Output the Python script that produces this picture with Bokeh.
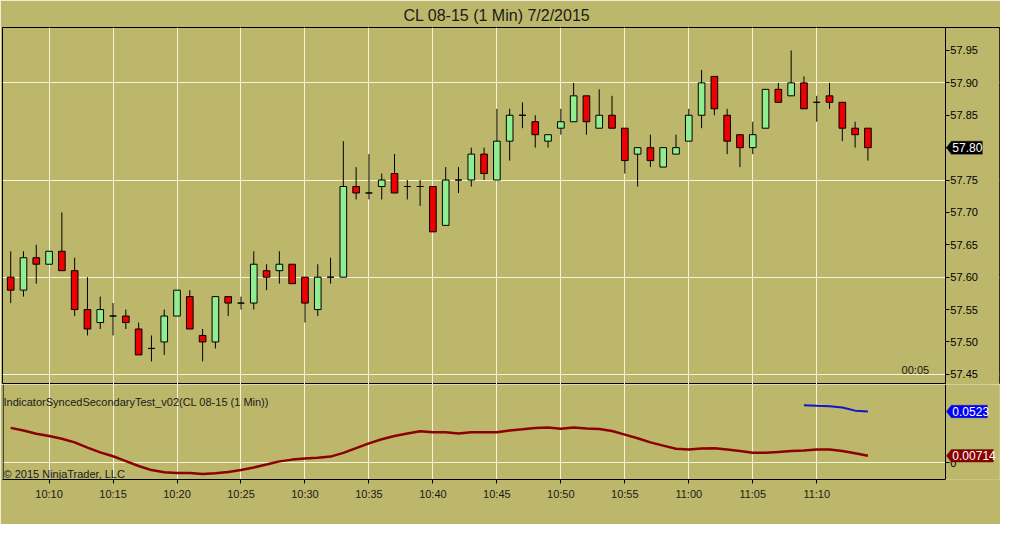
from bokeh.plotting import figure
from bokeh.layouts import column
from bokeh.models import (Range1d, FixedTicker, Label, PolyAnnotation, Grid,
                          ColumnDataSource, BoxAnnotation, Span)
from bokeh.embed import file_html
from bokeh.resources import INLINE

# ---------------- data ----------------
times = ["10:07", "10:08", "10:09", "10:10", "10:11", "10:12", "10:13", "10:14",
         "10:15", "10:16", "10:17", "10:18", "10:19", "10:20", "10:21", "10:22",
         "10:23", "10:24", "10:25", "10:26", "10:27", "10:28", "10:29", "10:30",
         "10:31", "10:32", "10:33", "10:34", "10:35", "10:36", "10:37", "10:38",
         "10:39", "10:40", "10:41", "10:42", "10:43", "10:44", "10:45", "10:46",
         "10:47", "10:48", "10:49", "10:50", "10:51", "10:52", "10:53", "10:54",
         "10:55", "10:56", "10:57", "10:58", "10:59", "11:00", "11:01", "11:02",
         "11:03", "11:04", "11:05", "11:06", "11:07", "11:08", "11:09", "11:10",
         "11:11", "11:12", "11:13", "11:14"]
opens = [57.60, 57.58, 57.63, 57.62, 57.64, 57.61, 57.55, 57.53, 57.54, 57.54,
         57.52, 57.49, 57.50, 57.54, 57.57, 57.51, 57.50, 57.57, 57.56, 57.56,
         57.61, 57.61, 57.62, 57.60, 57.55, 57.60, 57.60, 57.74, 57.73, 57.74,
         57.76, 57.74, 57.74, 57.74, 57.68, 57.75, 57.75, 57.79, 57.75, 57.81,
         57.85, 57.84, 57.81, 57.83, 57.84, 57.88, 57.83, 57.85, 57.83, 57.79,
         57.80, 57.77, 57.79, 57.81, 57.85, 57.91, 57.85, 57.82, 57.80, 57.83,
         57.89, 57.88, 57.90, 57.87, 57.88, 57.87, 57.83, 57.83]
highs = [57.64, 57.64, 57.65, 57.64, 57.70, 57.63, 57.60, 57.57, 57.56, 57.55,
         57.53, 57.51, 57.55, 57.58, 57.58, 57.52, 57.57, 57.57, 57.57, 57.64,
         57.62, 57.64, 57.62, 57.60, 57.62, 57.63, 57.81, 57.77, 57.79, 57.76,
         57.79, 57.75, 57.75, 57.74, 57.77, 57.77, 57.80, 57.80, 57.86, 57.86,
         57.87, 57.85, 57.82, 57.86, 57.90, 57.88, 57.89, 57.88, 57.83, 57.80,
         57.82, 57.80, 57.82, 57.86, 57.92, 57.91, 57.86, 57.82, 57.84, 57.89,
         57.90, 57.95, 57.91, 57.88, 57.90, 57.87, 57.84, 57.83]
lows = [57.56, 57.57, 57.59, 57.62, 57.61, 57.54, 57.51, 57.52, 57.51, 57.52,
        57.48, 57.47, 57.48, 57.54, 57.52, 57.47, 57.49, 57.54, 57.55, 57.55,
        57.58, 57.59, 57.59, 57.53, 57.54, 57.59, 57.60, 57.72, 57.72, 57.72,
        57.73, 57.72, 57.71, 57.67, 57.68, 57.73, 57.74, 57.75, 57.75, 57.78,
        57.83, 57.80, 57.80, 57.82, 57.84, 57.82, 57.83, 57.83, 57.76, 57.74,
        57.77, 57.77, 57.79, 57.81, 57.83, 57.85, 57.79, 57.77, 57.79, 57.83,
        57.87, 57.88, 57.86, 57.84, 57.86, 57.81, 57.80, 57.78]
closes = [57.58, 57.63, 57.62, 57.64, 57.61, 57.55, 57.52, 57.55, 57.54, 57.53,
          57.48, 57.49, 57.54, 57.58, 57.52, 57.50, 57.57, 57.56, 57.56, 57.62,
          57.60, 57.62, 57.59, 57.56, 57.60, 57.60, 57.74, 57.73, 57.73, 57.75,
          57.73, 57.74, 57.74, 57.67, 57.75, 57.75, 57.79, 57.76, 57.81, 57.85,
          57.85, 57.82, 57.82, 57.84, 57.88, 57.84, 57.85, 57.83, 57.78, 57.80,
          57.78, 57.80, 57.80, 57.85, 57.90, 57.86, 57.81, 57.80, 57.82, 57.89,
          57.87, 57.90, 57.86, 57.87, 57.87, 57.83, 57.82, 57.80]
indicator_red = [0.0356, 0.0329, 0.0297, 0.0274, 0.0245, 0.0208, 0.0155, 0.0106,
                 0.0066, 0.0017, -0.0033, -0.0075, -0.0097, -0.0105, -0.0105, -0.0115,
                 -0.0107, -0.0095, -0.0075, -0.0048, -0.0018, 0.0014, 0.0032, 0.0044,
                 0.0051, 0.0063, 0.0101, 0.0150, 0.0198, 0.0240, 0.0274, 0.0299,
                 0.0321, 0.0311, 0.0311, 0.0299, 0.0311, 0.0311, 0.0311, 0.0329,
                 0.0341, 0.0356, 0.0360, 0.0347, 0.0360, 0.0350, 0.0344, 0.0324,
                 0.0287, 0.0250, 0.0208, 0.0175, 0.0143, 0.0136, 0.0146, 0.0149,
                 0.0136, 0.0121, 0.0103, 0.0103, 0.0111, 0.0119, 0.0126, 0.0136,
                 0.0136, 0.0121, 0.0096, 0.00714]
blue_times = ["11:09", "11:10", "11:11", "11:12", "11:13", "11:14"]
indicator_blue = [0.0588, 0.0581, 0.0578, 0.0564, 0.0532, 0.0523]
price_tick_labels = ["57.45", "57.50", "57.55", "57.60", "57.65", "57.70",
                     "57.75", "57.80", "57.85", "57.90", "57.95"]
price_grid = [57.45, 57.60, 57.75, 57.90]
time_tick_labels = ["10:10", "10:15", "10:20", "10:25", "10:30", "10:35", "10:40",
                    "10:45", "10:50", "10:55", "11:00", "11:05", "11:10"]
last_price = "57.80"
last_red = "0.00714"
last_blue = "0.0523"

# ---------------- helpers / layout constants ----------------
def minutes(t):
    h, m = t.split(":")
    return (int(h) - 10) * 60 + int(m)

BG = "#BDB76B"
GRID = "#F6F3DC"
FONT = "Liberation Sans"
FW = 997          # frame spans the price-scale area too
FH1 = 357
FH2 = 95
X0, X1 = 6.36, 84.285
AXX = 80.054      # where the right price scale sits
PPM = FW / (X1 - X0)   # pixels per minute

xs = [minutes(t) for t in times]
tick_pos = [minutes(t) for t in time_tick_labels]
x_range = Range1d(X0, X1)

def px(n):
    return n / PPM

# ---------------- main price panel ----------------
Y0, Y1 = 57.4343, 57.9855
p = figure(frame_width=FW, frame_height=FH1, x_range=x_range,
           y_range=Range1d(Y0, Y1), y_axis_location="right",
           x_axis_location=None, min_border_left=2, min_border_right=1,
           min_border_top=27, min_border_bottom=0, toolbar_location=None,
           output_backend="svg", background_fill_color=BG, border_fill_color=BG,
           outline_line_color="black", outline_line_width=1)
for g in list(p.grid):
    g.grid_line_color = None
p.add_layout(Grid(dimension=0, ticker=FixedTicker(ticks=tick_pos),
                  grid_line_color=GRID, grid_line_width=1))
p.add_layout(Grid(dimension=1, ticker=FixedTicker(ticks=price_grid),
                  grid_line_color=GRID, grid_line_width=1))
# plain background behind the price scale
ypp1 = (Y1 - Y0) / FH1
p.add_layout(BoxAnnotation(left=AXX, top=Y1 - 1.5 * ypp1, fill_color=BG, fill_alpha=1,
                           line_color=None, level="glyph"))

p.title.text = "CL 08-15 (1 Min)  7/2/2015"
p.title.align = "left"
p.title.offset = 401
p.title.text_font = FONT
p.title.text_font_size = "16px"
p.title.text_font_style = "normal"
p.title.text_color = "#1a1a1a"
p.title.vertical_align = "middle"
p.title.standoff = 6

ax = p.yaxis[0]
ax.fixed_location = AXX
ax.ticker = FixedTicker(ticks=[float(s) for s in price_tick_labels])
ax.major_label_overrides = {float(s): s for s in price_tick_labels}
ax.major_tick_out = 4
ax.major_tick_in = 0
ax.minor_tick_line_color = None
ax.axis_line_color = "black"
ax.major_tick_line_color = "black"
ax.major_label_text_font = FONT
ax.major_label_text_font_size = "11px"
ax.major_label_text_color = "black"
ax.major_label_standoff = 1

tops = [max(o, c) for o, c in zip(opens, closes)]
bots = [min(o, c) for o, c in zip(opens, closes)]
cols = ["#90EE90" if c > o else ("#EE0000" if c < o else "black")
        for o, c in zip(opens, closes)]
src = ColumnDataSource(dict(x=xs, high=highs, low=lows, top=tops, bottom=bots, col=cols))
p.segment(x0="x", y0="high", x1="x", y1="low", source=src, line_color="black", line_width=1)
p.vbar(x="x", width=0.52, top="top", bottom="bottom", source=src,
       fill_color="col", line_color="black", line_width=1)

# bar timer
p.add_layout(Label(x=AXX - px(30), y=57.4565, text="00:05",
                   text_font=FONT, text_font_size="11px", text_color="#1a1a1a",
                   text_align="center", text_baseline="middle"))

# last price marker
lp = float(last_price)
hp = 6.5 * ypp1
p.add_layout(PolyAnnotation(xs=[AXX + px(1), AXX + px(6), AXX + px(37), AXX + px(37), AXX + px(6)],
                            ys=[lp, lp + hp, lp + hp, lp - hp, lp - hp],
                            fill_color="black", fill_alpha=1, line_color="black"))
p.add_layout(Label(x=AXX + px(7), y=lp, text=last_price,
                   text_font=FONT, text_font_size="12px", text_color="white",
                   text_align="left", text_baseline="middle"))

# ---------------- indicator panel ----------------
V0, V1 = -0.0171, 0.0799
q = figure(frame_width=FW, frame_height=FH2, x_range=x_range,
           y_range=Range1d(V0, V1), y_axis_location="right",
           min_border_left=2, min_border_right=1, min_border_top=0,
           min_border_bottom=45, toolbar_location=None, output_backend="svg",
           background_fill_color=BG, border_fill_color=BG,
           outline_line_color=None)
for g in list(q.grid):
    g.grid_line_color = None
q.add_layout(Grid(dimension=0, ticker=FixedTicker(ticks=tick_pos),
                  grid_line_color=GRID, grid_line_width=1))
q.add_layout(Grid(dimension=1, ticker=FixedTicker(ticks=[0]),
                  grid_line_color=GRID, grid_line_width=1))
q.add_layout(BoxAnnotation(left=AXX, fill_color=BG, fill_alpha=1,
                           line_color=None, level="glyph"))
q.add_layout(Span(location=X0 + px(0.6), dimension="height", line_color="black",
                  line_width=1))

xa = q.xaxis[0]
xa.bounds = (X0, AXX)
xa.ticker = FixedTicker(ticks=tick_pos)
xa.major_label_overrides = {pos: lab for pos, lab in zip(tick_pos, time_tick_labels)}
xa.major_tick_out = 4
xa.major_tick_in = 0
xa.minor_tick_line_color = None
xa.axis_line_color = "black"
xa.major_label_text_font = FONT
xa.major_label_text_font_size = "11px"
xa.major_label_text_color = "#1a1a1a"
xa.major_label_standoff = 4

ya = q.yaxis[0]
ya.fixed_location = AXX
ya.ticker = FixedTicker(ticks=[0])
ya.major_label_overrides = {0: "0"}
ya.major_tick_out = 4
ya.major_tick_in = 0
ya.minor_tick_line_color = None
ya.axis_line_color = "black"
ya.major_label_text_font = FONT
ya.major_label_text_font_size = "11px"
ya.major_label_text_color = "black"
ya.major_label_standoff = 1

q.line([minutes(t) for t in times], indicator_red, line_color="#8B0000", line_width=2.5)
q.line([minutes(t) for t in blue_times], indicator_blue, line_color="#1414C8", line_width=2)

q.add_layout(Label(x=1, y=FH2 - 17.5, x_units="screen", y_units="screen",
                   text="IndicatorSyncedSecondaryTest_v02(CL 08-15 (1 Min))",
                   text_font=FONT, text_font_size="11px", text_color="#1a1a1a",
                   text_align="left", text_baseline="middle"))
q.add_layout(Label(x=1, y=6, x_units="screen", y_units="screen",
                   text="\u00a9 2015 NinjaTrader, LLC",
                   text_font=FONT, text_font_size="11px", text_color="#1a1a1a",
                   text_align="left", text_baseline="middle"))

ypp2 = (V1 - V0) / FH2
hq = 6.3 * ypp2
vb = indicator_blue[-1]
vr = indicator_red[-1]
q.add_layout(PolyAnnotation(xs=[AXX + px(1), AXX + px(6), AXX + px(42), AXX + px(42), AXX + px(6)],
                            ys=[vb, vb + hq, vb + hq, vb - hq, vb - hq],
                            fill_color="#0000FF", fill_alpha=1, line_color="#000080"))
q.add_layout(Label(x=AXX + px(7), y=vb, text=last_blue,
                   text_font=FONT, text_font_size="12px", text_color="white",
                   text_align="left", text_baseline="middle"))
q.add_layout(PolyAnnotation(xs=[AXX + px(1), AXX + px(6), AXX + px(48), AXX + px(48), AXX + px(6)],
                            ys=[vr, vr + hq, vr + hq, vr - hq, vr - hq],
                            fill_color="#8B0000", fill_alpha=1, line_color="#400000"))
q.add_layout(Label(x=AXX + px(7), y=vr, text=last_red,
                   text_font=FONT, text_font_size="12px", text_color="white",
                   text_align="left", text_baseline="middle"))

layout = column(p, q, spacing=0)
open("out.html", "w").write(file_html(layout, INLINE))
